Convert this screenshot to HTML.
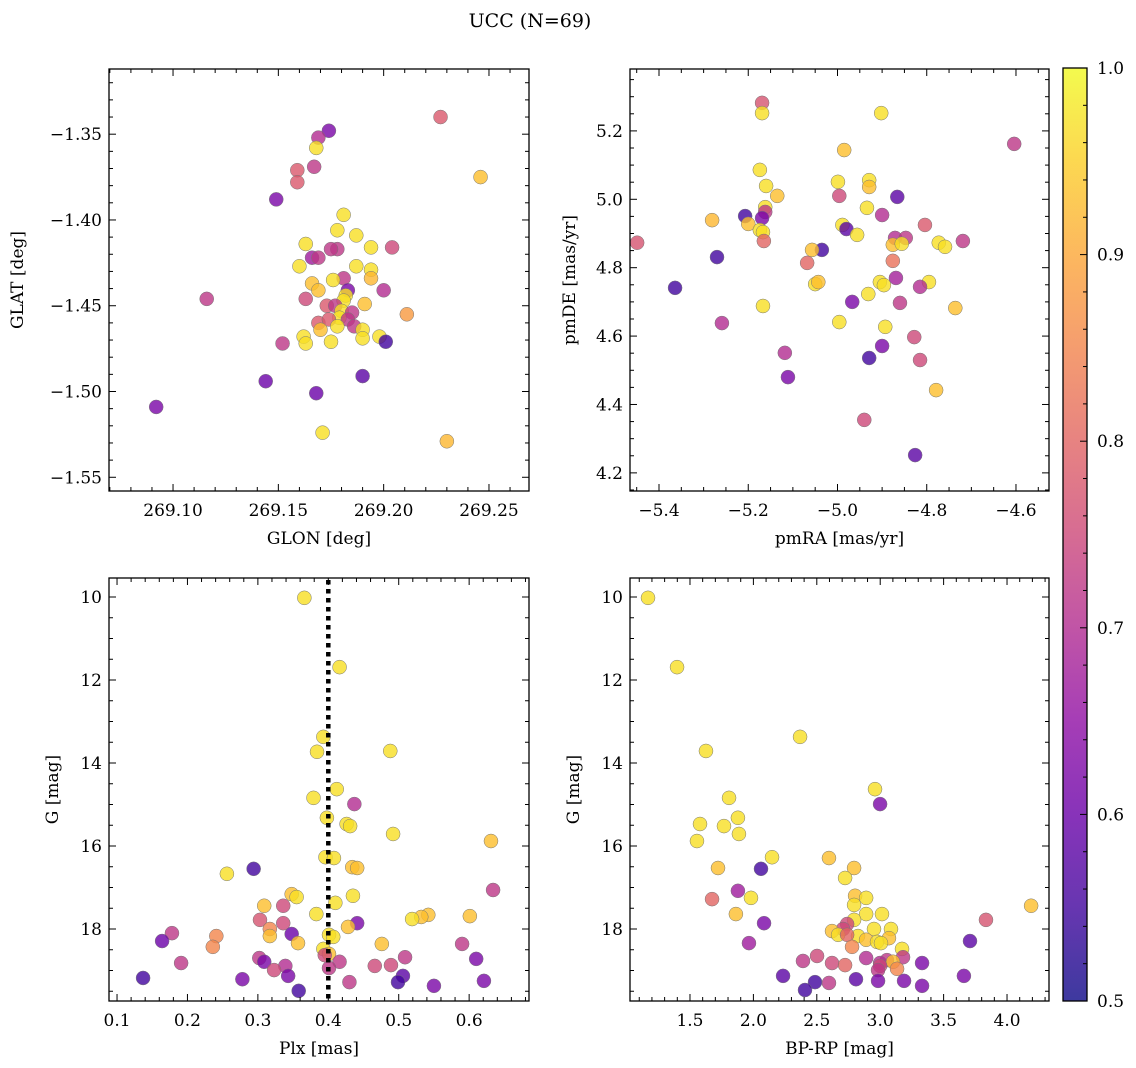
<!DOCTYPE html>
<html><head><meta charset="utf-8"><style>
body{margin:0;background:#fff;}
svg{display:block;font-family:"DejaVu Serif","Liberation Serif",serif;}
</style></head><body>
<svg id="fig" width="1136" height="1068" viewBox="0 0 1136 1068" xmlns="http://www.w3.org/2000/svg">
<defs>
<linearGradient id="plasma" x1="0" y1="1" x2="0" y2="0">
<stop offset="0" stop-color="#0d0887"/><stop offset="0.1" stop-color="#41049d"/><stop offset="0.2" stop-color="#6a00a8"/><stop offset="0.3" stop-color="#8f0da4"/><stop offset="0.4" stop-color="#b12a90"/><stop offset="0.5" stop-color="#cc4778"/><stop offset="0.6" stop-color="#e16462"/><stop offset="0.7" stop-color="#f2844b"/><stop offset="0.8" stop-color="#fca636"/><stop offset="0.9" stop-color="#fcce25"/><stop offset="1" stop-color="#f0f921"/>
</linearGradient>
</defs>
<text x="530" y="27" font-size="19" text-anchor="middle">UCC (N=69)</text>
</svg>
<script>
// Panel 1: GLON vs GLAT
const glon = [269.174,269.169,269.168,269.159,269.159,269.167,269.227,269.246,269.149,269.181,269.178,269.187,269.194,269.204,269.163,269.178,269.175,269.166,269.169,269.160,269.187,269.194,269.194,269.181,269.176,269.166,269.169,269.183,269.182,269.181,269.200,269.163,269.173,269.177,269.191,269.180,269.185,269.116,269.179,269.169,269.174,269.183,269.178,269.170,269.186,269.190,269.211,269.162,269.163,269.175,269.190,269.198,269.201,269.152,269.190,269.144,269.168,269.171,269.230,269.092];
const glat = [-1.348,-1.352,-1.358,-1.371,-1.378,-1.369,-1.340,-1.375,-1.388,-1.397,-1.406,-1.409,-1.416,-1.416,-1.414,-1.417,-1.417,-1.422,-1.422,-1.427,-1.427,-1.429,-1.434,-1.434,-1.435,-1.437,-1.441,-1.441,-1.444,-1.447,-1.441,-1.446,-1.450,-1.450,-1.449,-1.453,-1.454,-1.446,-1.457,-1.460,-1.458,-1.458,-1.462,-1.464,-1.462,-1.464,-1.455,-1.468,-1.472,-1.471,-1.469,-1.468,-1.471,-1.472,-1.491,-1.494,-1.501,-1.524,-1.529,-1.509];
const prob1 = [0.62,0.70,0.97,0.78,0.78,0.72,0.78,0.93,0.62,0.97,0.97,0.97,0.97,0.75,0.97,0.72,0.72,0.67,0.72,0.97,0.97,0.97,0.92,0.72,0.97,0.93,0.93,0.62,0.97,0.97,0.70,0.75,0.78,0.72,0.93,0.97,0.72,0.72,0.97,0.78,0.78,0.72,0.97,0.93,0.72,0.97,0.88,0.97,0.97,0.97,0.97,0.97,0.55,0.72,0.58,0.60,0.60,0.97,0.92,0.62];
// Panel 2: pmRA vs pmDE
const pmra = [-5.169,-5.169,-4.902,-4.604,-4.985,-5.174,-4.929,-4.999,-5.160,-4.929,-5.135,-4.996,-4.866,-5.162,-4.934,-5.162,-5.281,-5.207,-5.169,-4.900,-4.804,-5.200,-4.989,-4.980,-5.174,-5.167,-4.956,-5.270,-5.035,-4.871,-4.847,-4.876,-4.856,-4.773,-4.759,-4.719,-5.165,-5.449,-5.057,-5.068,-4.876,-5.050,-5.043,-4.905,-4.896,-4.869,-4.795,-4.815,-5.364,-4.967,-4.860,-4.736,-4.931,-5.167,-5.259,-4.996,-4.893,-4.828,-4.900,-5.118,-4.929,-4.815,-5.111,-4.779,-4.940,-4.826];
const pmde = [5.282,5.252,5.252,5.162,5.144,5.086,5.056,5.051,5.039,5.036,5.010,5.010,5.007,4.977,4.975,4.963,4.939,4.951,4.945,4.954,4.925,4.928,4.925,4.913,4.910,4.904,4.896,4.831,4.852,4.887,4.887,4.867,4.870,4.873,4.861,4.878,4.878,4.873,4.852,4.814,4.820,4.752,4.758,4.758,4.749,4.770,4.758,4.744,4.741,4.700,4.697,4.682,4.723,4.688,4.638,4.641,4.627,4.597,4.571,4.551,4.536,4.530,4.480,4.442,4.355,4.252];
const prob2 = [0.77,0.97,0.97,0.72,0.93,0.97,0.97,0.97,0.97,0.93,0.93,0.75,0.58,0.97,0.97,0.72,0.92,0.55,0.62,0.70,0.78,0.93,0.97,0.58,0.97,0.97,0.97,0.55,0.55,0.70,0.72,0.93,0.97,0.97,0.97,0.72,0.80,0.77,0.93,0.80,0.82,0.97,0.93,0.97,0.97,0.68,0.97,0.70,0.55,0.62,0.72,0.93,0.97,0.97,0.70,0.97,0.97,0.75,0.62,0.70,0.55,0.75,0.62,0.93,0.75,0.58];
// Panel 3: Plx vs G
const plx = [0.366,0.416,0.488,0.393,0.384,0.412,0.379,0.437,0.398,0.426,0.431,0.492,0.631,0.396,0.408,0.256,0.294,0.434,0.441,0.634,0.435,0.348,0.355,0.309,0.336,0.410,0.542,0.532,0.601,0.383,0.519,0.303,0.336,0.441,0.428,0.317,0.178,0.317,0.241,0.348,0.401,0.407,0.164,0.357,0.476,0.590,0.236,0.393,0.401,0.395,0.191,0.302,0.509,0.610,0.309,0.416,0.339,0.489,0.466,0.401,0.323,0.506,0.137,0.278,0.343,0.430,0.499,0.621,0.550,0.358];
const gmag3 = [10.02,11.69,13.71,13.37,13.73,14.63,14.84,14.99,15.32,15.47,15.52,15.71,15.88,16.27,16.29,16.67,16.55,16.51,16.53,17.06,17.20,17.16,17.23,17.44,17.44,17.37,17.66,17.71,17.69,17.64,17.76,17.78,17.86,17.86,17.95,18.00,18.10,18.17,18.17,18.12,18.14,18.19,18.29,18.34,18.36,18.36,18.43,18.48,18.60,18.63,18.82,18.70,18.68,18.72,18.79,18.79,18.89,18.87,18.89,18.94,18.99,19.13,19.18,19.21,19.13,19.28,19.28,19.25,19.37,19.49];
const prob3 = [0.97,0.97,0.97,0.97,0.97,0.97,0.97,0.70,0.97,0.97,0.97,0.97,0.93,0.97,0.97,0.97,0.55,0.93,0.93,0.72,0.97,0.93,0.97,0.93,0.75,0.97,0.93,0.93,0.93,0.97,0.97,0.77,0.75,0.62,0.93,0.85,0.72,0.93,0.85,0.60,0.97,0.97,0.60,0.93,0.93,0.72,0.85,0.97,0.93,0.75,0.72,0.72,0.72,0.62,0.62,0.72,0.70,0.75,0.75,0.72,0.75,0.58,0.55,0.62,0.62,0.72,0.55,0.62,0.62,0.55];
const plxRef = [0.4];
// Panel 4: BP-RP vs G
const bprp = [1.169,1.398,1.626,2.368,2.959,2.999,1.808,1.878,1.768,1.579,1.886,1.555,2.147,2.596,2.060,1.721,2.794,2.723,4.190,1.674,1.878,1.981,2.802,2.889,2.794,3.014,1.862,2.889,2.794,3.834,2.739,2.084,2.707,2.620,2.668,2.951,3.085,2.825,2.739,3.069,2.889,2.975,3.006,3.172,2.778,3.708,1.965,2.889,3.053,3.180,2.999,3.101,3.330,2.502,2.391,2.620,2.723,2.999,2.983,3.133,2.234,3.660,2.983,2.486,2.596,2.809,3.188,3.330,2.407];
const gmag4 = [10.02,11.69,13.71,13.37,14.63,14.99,14.84,15.32,15.52,15.47,15.71,15.88,16.27,16.29,16.55,16.53,16.53,16.77,17.44,17.28,17.08,17.25,17.20,17.25,17.42,17.64,17.64,17.64,17.78,17.78,17.88,17.86,18.00,18.05,18.14,18.00,18.00,18.17,18.14,18.22,18.26,18.31,18.34,18.48,18.43,18.29,18.34,18.70,18.75,18.68,18.82,18.79,18.82,18.65,18.77,18.82,18.87,18.89,18.99,18.96,19.13,19.13,19.25,19.28,19.30,19.21,19.25,19.37,19.47];
const prob4 = [0.97,0.97,0.97,0.97,0.97,0.62,0.97,0.97,0.97,0.97,0.97,0.97,0.97,0.93,0.55,0.93,0.93,0.97,0.93,0.80,0.67,0.97,0.93,0.97,0.97,0.97,0.93,0.97,0.97,0.77,0.75,0.62,0.75,0.93,0.97,0.97,0.97,0.97,0.80,0.93,0.93,0.97,0.97,0.97,0.85,0.58,0.67,0.70,0.72,0.72,0.70,0.93,0.62,0.75,0.72,0.75,0.80,0.75,0.72,0.85,0.58,0.62,0.62,0.55,0.72,0.58,0.62,0.62,0.55];
const cbTicks = [0.5,0.6,0.7,0.8,0.9,1.0];

const NS = "http://www.w3.org/2000/svg";
const svg = document.getElementById('fig');
const stops = [[13,8,135],[65,4,157],[106,0,168],[143,13,164],[177,42,144],[204,71,120],[225,100,98],[242,132,75],[252,166,54],[252,206,37],[240,249,33]];
function plasma(p){
  let t = Math.max(0, Math.min(1, (p-0.5)/0.5))*10;
  const i = Math.min(9, Math.floor(t)); const f = t - i;
  const a = stops[i], b = stops[i+1];
  return 'rgb(' + a.map((v,k)=>Math.round(v+(b[k]-v)*f)).join(',') + ')';
}
function mk(tag, attrs, parent){
  const e = document.createElementNS(NS, tag);
  for (const k in attrs) e.setAttribute(k, attrs[k]);
  (parent||svg).appendChild(e); return e;
}
function fmt(v, d){ return (v<0?'\u2212':'') + Math.abs(v).toFixed(d); }

function panel(cfg){
  const {name, L, T, R, B, xmin, xmax, ymin, ymax, yinv, xs, ys, cs, xmaj, xmin_, ymaj, ymin_, xd, yd, xlabel, ylabel, ylabx} = cfg;
  const g = mk('g', {});
  
  
  const sx = v => L + (v - xmin) / (xmax - xmin) * (R - L);
  const sy = v => yinv ? T + (v - ymin) / (ymax - ymin) * (B - T) : B - (v - ymin) / (ymax - ymin) * (B - T);
  const cp = 'clip-' + name;
  const cl = mk('clipPath', {id: cp}, g); mk('rect', {x: L, y: T, width: R - L, height: B - T}, cl);
  const pts = mk('g', {'clip-path': 'url(#' + cp + ')'}, g);
  for (let i = 0; i < xs.length; i++){
    const c = mk('circle', {cx: sx(xs[i]), cy: sy(ys[i]), r: 7, fill: plasma(cs[i]), 'fill-opacity': 0.8, stroke: '#777', 'stroke-width': 0.5}, pts);
    
    
  }
  if (cfg.vline){
    const X = sx(cfg.vline[0]);
    const ln = mk('line', {x1: X, x2: X, y1: T + 2, y2: B - 1, stroke: '#000', 'stroke-width': 4.5, 'stroke-dasharray': '4.5,4.5'}, g);
    
    
  }
  mk('rect', {x: L, y: T, width: R - L, height: B - T, fill: 'none', stroke: '#000', 'stroke-width': 1.3}, g);
  const eps = 1e-9;
  for (let v = Math.ceil(xmin / xmin_ - eps) * xmin_; v <= xmax + eps; v += xmin_){
    const X = sx(v);
    const isMaj = Math.abs(v / xmaj - Math.round(v / xmaj)) < 1e-6;
    const len = isMaj ? 7 : 4;
    mk('line', {x1: X, x2: X, y1: B, y2: B - len, stroke: '#000', 'stroke-width': 1}, g);
    mk('line', {x1: X, x2: X, y1: T, y2: T + len, stroke: '#000', 'stroke-width': 1}, g);
    if (isMaj){
      const t = mk('text', {x: X, y: B + 25, 'font-size': 17, 'text-anchor': 'middle'}, g);
      t.textContent = fmt(Math.round(v / xmaj) * xmaj, xd);
      
      
    }
  }
  for (let v = Math.ceil(ymin / ymin_ - eps) * ymin_; v <= ymax + eps; v += ymin_){
    const Y = sy(v);
    const isMaj = Math.abs(v / ymaj - Math.round(v / ymaj)) < 1e-6;
    const len = isMaj ? 7 : 4;
    mk('line', {x1: L, x2: L + len, y1: Y, y2: Y, stroke: '#000', 'stroke-width': 1}, g);
    mk('line', {x1: R, x2: R - len, y1: Y, y2: Y, stroke: '#000', 'stroke-width': 1}, g);
    if (isMaj){
      const t = mk('text', {x: L - 7, y: Y + 6, 'font-size': 17, 'text-anchor': 'end'}, g);
      t.textContent = fmt(Math.round(v / ymaj) * ymaj, yd);
      
      
    }
  }
  const xl = mk('text', {x: (L + R) / 2, y: B + 53, 'font-size': 17, 'text-anchor': 'middle'}, g);
  xl.textContent = xlabel;
  
  
  const yl = mk('text', {x: ylabx, y: (T + B) / 2, 'font-size': 17, 'text-anchor': 'middle', transform: 'rotate(-90 ' + ylabx + ' ' + (T + B) / 2 + ')'}, g);
  yl.textContent = ylabel;
  
  
}

panel({name:'glon-glat-panel', L:109, T:69, R:529, B:491, xmin:269.0696, xmax:269.269, ymin:-1.558, ymax:-1.312, xs:glon, ys:glat, cs:prob1, xmaj:0.05, xmin_:0.01, ymaj:0.05, ymin_:0.01, xd:2, yd:2, xlabel:'GLON [deg]', ylabel:'GLAT [deg]', ylabx:23});
panel({name:'proper-motion-panel', L:630, T:69, R:1049, B:491, xmin:-5.465, xmax:-4.526, ymin:4.147, ymax:5.381, xs:pmra, ys:pmde, cs:prob2, xmaj:0.2, xmin_:0.05, ymaj:0.2, ymin_:0.05, xd:1, yd:1, xlabel:'pmRA [mas/yr]', ylabel:'pmDE [mas/yr]', ylabx:575});
panel({name:'parallax-magnitude-panel', L:109, T:578, R:529, B:1001, xmin:0.0886, xmax:0.685, ymin:9.542, ymax:19.735, yinv:true, xs:plx, ys:gmag3, cs:prob3, xmaj:0.1, xmin_:0.02, ymaj:2, ymin_:0.5, xd:1, yd:0, xlabel:'Plx [mas]', ylabel:'G [mag]', ylabx:58, vline:plxRef});
panel({name:'color-magnitude-panel', L:630, T:578, R:1049, B:1001, xmin:1.027, xmax:4.331, ymin:9.542, ymax:19.735, yinv:true, xs:bprp, ys:gmag4, cs:prob4, xmaj:0.5, xmin_:0.1, ymaj:2, ymin_:0.5, xd:1, yd:0, xlabel:'BP-RP [mag]', ylabel:'G [mag]', ylabx:579});

const cb = mk('g', {});


const cT = 68, cB = 1001, cL = 1063, cR = 1087;
mk('rect', {x: cL, y: cT, width: cR - cL, height: cB - cT, fill: 'url(#plasma)', opacity: 0.8}, cb);
mk('rect', {x: cL, y: cT, width: cR - cL, height: cB - cT, fill: 'none', stroke: '#000', 'stroke-width': 1.3}, cb);
const cy = v => cB - (v - 0.5) / 0.5 * (cB - cT);
for (let k = 0; k <= 25; k++){
  const v = 0.5 + k * 0.02, Y = cy(v);
  const isMaj = k % 5 === 0, len = isMaj ? 7 : 4;
  mk('line', {x1: cR, x2: cR - len, y1: Y, y2: Y, stroke: '#000', 'stroke-width': 1}, cb);
}
for (const v of cbTicks){
  const t = mk('text', {x: cR + 10, y: cy(v) + 6, 'font-size': 17}, cb);
  t.textContent = v.toFixed(1);
  
  
}
</script>
</body></html>
